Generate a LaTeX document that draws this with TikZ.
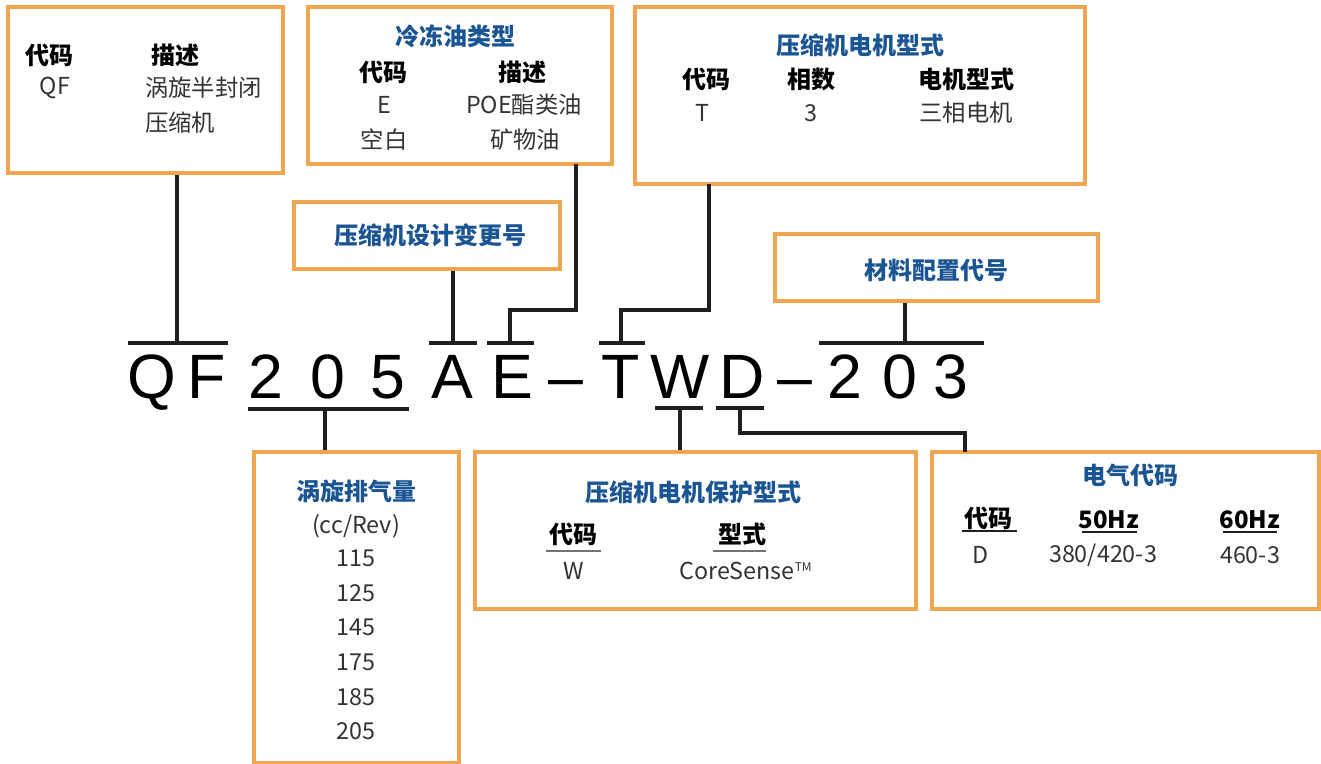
\documentclass[tikz,border=0pt]{standalone}
\usepackage{fontspec}
\setmainfont{Noto Sans CJK SC}
\newfontfamily\codefont{Liberation Sans}
\usetikzlibrary{calc, fit, positioning}
\definecolor{boxOrange}{RGB}{240,165,80}
\definecolor{titleBlue}{RGB}{26,84,147}
\definecolor{textGray}{gray}{0.2}
\definecolor{lineBlack}{gray}{0.12}
\definecolor{ruleGray}{gray}{0.45}

\tikzset{
    box/.style={draw=boxOrange, line width=2.3pt, inner sep=0pt},
    ttl/.style={font=\fontsize{18}{21}\selectfont\bfseries, text=titleBlue, inner sep=0pt},
    hdr/.style={font=\fontsize{18}{21}\selectfont\bfseries, text=black, inner sep=0pt},
    txt/.style={font=\fontsize{17.5}{21}\selectfont, text=textGray, inner sep=0pt},
    link/.style={draw=lineBlack, line width=2.4pt},
    bar/.style={draw=lineBlack, line width=3pt},
    letter/.style={font=\codefont\fontsize{47}{50}\selectfont, anchor=base, inner sep=0pt},
}

\begin{document}
\begin{tikzpicture}[x=0.75pt, y=-0.75pt]
    \useasboundingbox (0,0) rectangle (1321,764);

    % Boxes
    \node[box, fit={(8,7) (283,173)}] (qfbox) {};
    \node[box, fit={(308,7) (612,164)}] (oilbox) {};
    \node[box, fit={(635,7) (1085,184)}] (motorbox) {};
    \node[box, fit={(294,202) (560,269)}] (revbox) {};
    \node[box, fit={(775,234) (1098,301)}] (matbox) {};
    \node[box, fit={(254,452) (459,763)}] (dispbox) {};
    \node[box, fit={(475,452) (916,609)}] (protbox) {};
    \node[box, fit={(932,452) (1319,609)}] (elecbox) {};

    % Model code
    \node[letter] (lQ) at (152,398) {Q};
    \node[letter] (lF) at (207,398) {F};
    \node[letter] (l2a) at (266,398) {2};
    \node[letter] (l0a) at (328,398) {0};
    \node[letter] (l5) at (388,398) {5};
    \node[letter] (lA) at (452,398) {A};
    \node[letter] (lE) at (512,398) {E};
    \node[letter] (dashA) at (566,398) {–};
    \node[letter] (lT) at (621,398) {T};
    \node[letter] (lW) at (680,398) {W};
    \node[letter] (lD) at (742,398) {D};
    \node[letter] (dashB) at (795,398) {–};
    \node[letter] (l2b) at (845,398) {2};
    \node[letter] (l0b) at (900,398) {0};
    \node[letter] (l3) at (951,398) {3};

    % Bars
    \draw[bar] (128,343) -- (228,343);
    \draw[bar] (248,409) -- (409,409);
    \draw[bar] (429,343) -- (477,343);
    \draw[bar] (487,343) -- (534,343);
    \draw[bar] (599,343) -- (645,343);
    \draw[bar] (655,408) -- (703,408);
    \draw[bar] (716,408) -- (764,408);
    \draw[bar] (819,343) -- (984,343);

    \coordinate (barQF) at (177,343);
    \coordinate (bar205) at (325,409);
    \coordinate (barA) at (453,343);
    \coordinate (barE) at (510,343);
    \coordinate (barT) at (621,343);
    \coordinate (barW) at (680,408);
    \coordinate (barD) at (740,408);
    \coordinate (bar203) at (905,343);
    \coordinate (oilFoot) at (576,164);
    \coordinate (motorFoot) at (709,184);
    \coordinate (elecFoot) at (965,452);

    % Connectors
    \draw[link] (barQF) -- (barQF |- qfbox.south);
    \draw[link] (bar205) -- (bar205 |- dispbox.north);
    \draw[link] (barA) -- (barA |- revbox.south);
    \draw[link] (barE) -- ++(0,-33) -| (oilFoot);
    \draw[link] (barT) -- ++(0,-33) -| (motorFoot);
    \draw[link] (barW) -- (barW |- protbox.north);
    \draw[link] (barD) -- ++(0,25) -| (elecFoot);
    \draw[link] (bar203) -- (bar203 |- matbox.south);

    % QF box
    \node[hdr] (qfcode) at (50,55) {代码};
    \node[hdr] (qfdesc) at (175,55) {描述};
    \node[txt] (qfval) at (55,88) {QF};
    \node[txt, anchor=west] (qfdesc1) at (145,88) {涡旋半封闭};
    \node[txt, anchor=west] (qfdesc2) at (145,123) {压缩机};

    % Oil box
    \node[ttl] (oiltitle) at (455,36) {冷冻油类型};
    \node[hdr] (oilcode) at (383,72) {代码};
    \node[hdr] (oildesc) at (522,72) {描述};
    \node[txt] (oilE) at (384,105) {E};
    \node[txt] (oilPOE) at (524,105) {POE酯类油};
    \node[txt] (oilblank) at (384,140) {空白};
    \node[txt] (oilmin) at (525,140) {矿物油};

    % Motor box
    \node[ttl] (motortitle) at (860,45) {压缩机电机型式};
    \node[hdr] (motorcode) at (706,79) {代码};
    \node[hdr] (motorphase) at (811,79) {相数};
    \node[hdr] (motortype) at (966,79) {电机型式};
    \node[txt] (motorT) at (702,113) {T};
    \node[txt] (motor3) at (811,113) {3};
    \node[txt] (motor3ph) at (966,113) {三相电机};

    % Single line boxes
    \node[ttl] (revtitle) at (430,235) {压缩机设计变更号};
    \node[ttl] (mattitle) at (936,270) {材料配置代号};

    % Displacement box
    \node[ttl] (disptitle) at (356,491) {涡旋排气量};
    \node[txt] (dispunit) at (356,526) {(cc/Rev)};
    \foreach \val [count=\i] in {115,125,145,175,185,205}
        \node[txt] (disp\i) at (356,524+34.6*\i) {\val};

    % Protection box
    \node[ttl] (prottitle) at (693,492) {压缩机电机保护型式};
    \node[hdr] (protcode) at (573,534) {代码};
    \node[hdr] (prottype) at (742,534) {型式};
    \draw[ruleGray, line width=1.3pt] (546,551) -- (601,551);
    \draw[ruleGray, line width=1.3pt] (713,551) -- (766,551);
    \node[txt] (protW) at (574,571) {W};
    \node[txt] (protCS) at (746,571) {CoreSense\textsuperscript{\fontsize{9}{9}\selectfont TM}};

    % Electrical box
    \node[ttl] (electitle) at (1130,475) {电气代码};
    \node[hdr] (eleccode) at (988,518) {代码};
    \node[hdr] (elec50) at (1109,520) {50Hz};
    \node[hdr] (elec60) at (1250,520) {60Hz};
    \draw[lineBlack, line width=1.2pt] (962,531) -- (1017,531);
    \draw[lineBlack, line width=1.2pt] (1082,532) -- (1137,532);
    \draw[lineBlack, line width=1.2pt] (1223,532) -- (1277,532);
    \node[txt] (elecD) at (981,555) {D};
    \node[txt] (elecV50) at (1103,555) {380/420-3};
    \node[txt] (elecV60) at (1250,555) {460-3};
\end{tikzpicture}
\end{document}
